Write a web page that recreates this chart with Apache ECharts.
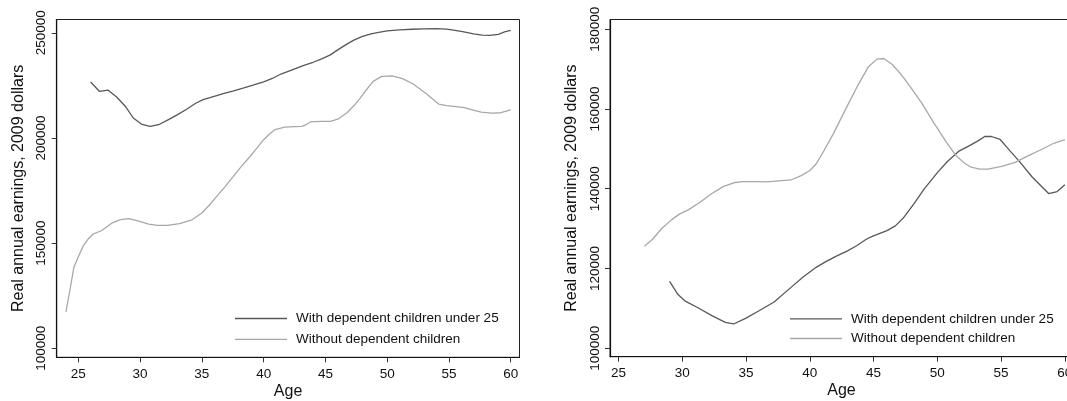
<!DOCTYPE html>
<html>
<head>
<meta charset="utf-8">
<script src="https://cdn.jsdelivr.net/npm/echarts@6/dist/echarts.min.js"></script>
<style>html,body{margin:0;padding:0;background:#fff}#c{width:1067px;height:401px}</style>
</head>
<body>
<div id="c"></div>
<script>
// ---- Data ----
const seriesNames = ['With dependent children under 25', 'Without dependent children'];
const xTicks = [25, 30, 35, 40, 45, 50, 55, 60];
const yTicksLeft = [100000, 150000, 200000, 250000];
const yTicksRight = [100000, 120000, 140000, 160000, 180000];

// Left panel, with dependent children
const ageLW = [26.0, 26.7, 27.4, 28.1, 28.8, 29.45, 30.1, 30.8, 31.5, 32.3, 33.0, 33.8, 34.5, 35.1, 36.0, 36.8, 37.5, 38.4, 39.2, 40.0, 40.7, 41.4, 42.2, 43.2, 44.0, 44.7, 45.4, 46.0, 46.7, 47.3, 48.0, 48.7, 49.3, 50.0, 51.0, 52.0, 53.0, 54.0, 54.8, 55.5, 56.2, 57.0, 57.7, 58.3, 59.0, 59.5, 60.0];
const earnLW = [226600, 222200, 222800, 219500, 215100, 209500, 206600, 205500, 206300, 208700, 211000, 213800, 216500, 218200, 219800, 221200, 222300, 223800, 225200, 226700, 228300, 230400, 232100, 234400, 236000, 237600, 239500, 241900, 244500, 246500, 248300, 249500, 250200, 250900, 251400, 251700, 251900, 252000, 251800, 251200, 250400, 249500, 248900, 248800, 249300, 250400, 251200];

// Left panel, without dependent children
const ageLN = [24.0, 24.3, 24.64, 25.0, 25.4, 25.8, 26.2, 26.9, 27.7, 28.4, 29.1, 29.9, 30.7, 31.4, 32.2, 33.2, 34.2, 35.0, 35.6, 36.2, 36.9, 37.55, 38.2, 38.9, 39.5, 40.0, 40.5, 40.93, 41.7, 42.5, 43.1, 43.4, 43.8, 44.6, 45.4, 46.06, 46.77, 47.3, 47.75, 48.3, 48.86, 49.56, 50.4, 51.24, 52.07, 52.6, 53.2, 53.7, 54.17, 54.8, 55.4, 56.24, 56.9, 57.6, 58.5, 59.2, 60.0];
const earnLN = [117300, 127000, 138500, 143500, 148700, 152000, 154300, 156000, 159500, 161200, 161700, 160500, 159000, 158400, 158400, 159300, 161100, 164300, 168000, 172200, 177000, 181700, 186500, 191200, 195500, 199200, 202000, 204000, 205200, 205400, 205500, 206200, 207700, 207900, 207900, 209100, 212100, 215300, 218500, 222800, 226900, 229300, 229500, 228200, 225800, 223500, 220900, 218400, 216100, 215400, 215000, 214400, 213400, 212300, 211800, 212000, 213400];

// Right panel, with dependent children
const ageRW = [29.0, 29.68, 30.2, 31.26, 32.32, 33.37, 34.03, 34.96, 36.02, 37.2, 38.39, 39.45, 40.5, 41.29, 42.08, 42.88, 43.67, 44.46, 44.99, 46.05, 46.71, 47.37, 48.16, 48.96, 50.02, 50.81, 51.73, 52.53, 53.19, 53.72, 54.25, 54.91, 55.7, 56.5, 57.42, 58.2, 58.73, 59.4, 60.0];
const earnRW = [116800, 113400, 111900, 110100, 108200, 106500, 106100, 107500, 109400, 111600, 114900, 117800, 120300, 121800, 123100, 124300, 125700, 127400, 128200, 129500, 130700, 132800, 136200, 139900, 144100, 146900, 149500, 150800, 152000, 153100, 153100, 152400, 149500, 146600, 143000, 140500, 138800, 139300, 141000];

// Right panel, without dependent children
const ageRN = [27.03, 27.69, 28.35, 29.15, 29.8, 30.47, 31.39, 32.32, 33.24, 34.03, 34.7, 35.75, 36.54, 37.33, 38.52, 39.32, 39.98, 40.5, 41.03, 41.83, 42.88, 43.68, 44.6, 45.26, 45.79, 46.45, 47.1, 47.9, 48.83, 49.75, 50.68, 51.47, 52.13, 52.66, 53.32, 53.98, 55.04, 56.1, 57.15, 58.2, 59.13, 60.0];
const earnRN = [125600, 127400, 129900, 132200, 133700, 134700, 136600, 138800, 140600, 141500, 141800, 141800, 141700, 141900, 142200, 143300, 144500, 146200, 149100, 153700, 160400, 165400, 170600, 172500, 172650, 171200, 168900, 165500, 161200, 156400, 151800, 148300, 146400, 145400, 144900, 144900, 145600, 146600, 148300, 149900, 151400, 152300];

// ---- Chart ----
const zip = (a, b) => a.map((x, i) => [x, b[i]]);
const FONT = '"Liberation Sans", Arial, Helvetica, sans-serif';
const darkCol = '#585858';
const lightCol = '#a8a8a8';

function xAxisCfg(gi, min, max) {
  return {
    type: 'value', gridIndex: gi, min: min, max: max,
    name: 'Age', nameLocation: 'middle', nameGap: 26, nameMoveOverlap: false,
    nameTextStyle: { fontFamily: FONT, fontSize: 16, color: '#111' },
    axisLine: { show: true, onZero: false, lineStyle: { color: '#111', width: 1.2 } },
    axisTick: { show: true, length: 5, customValues: xTicks, lineStyle: { color: '#333', width: 1 } },
    axisLabel: { customValues: xTicks, margin: 10, fontFamily: FONT, fontSize: 13.5, color: '#111',
      formatter: v => String(v) },
    splitLine: { show: false }
  };
}
function yAxisCfg(gi, min, max, ticks) {
  return {
    type: 'value', gridIndex: gi, min: min, max: max,
    name: 'Real annual earnings, 2009 dollars', nameLocation: 'middle', nameGap: 30, nameMoveOverlap: false,
    nameRotate: 90,
    nameTextStyle: { fontFamily: FONT, fontSize: 16, color: '#111' },
    axisLine: { show: true, onZero: false, lineStyle: { color: '#111', width: 1.2 } },
    axisTick: { show: true, length: 5, customValues: ticks, lineStyle: { color: '#333', width: 1 } },
    axisLabel: { customValues: ticks, rotate: 90, margin: 8, fontFamily: FONT, fontSize: 13.5, color: '#111',
      formatter: v => String(Math.round(v)) },
    splitLine: { show: false }
  };
}
function legendCfg(name, left, cy) {
  return {
    data: [name], left: left, top: cy - 8, orient: 'vertical',
    icon: 'rect', itemWidth: 52, itemHeight: 1.3, padding: 0,
    selectedMode: false,
    textStyle: { fontFamily: FONT, fontSize: 13.5, color: '#111', lineHeight: 16, padding: [0, 0, 0, 4] }
  };
}
function lineSeries(name, xi, data, col) {
  return {
    name: name, type: 'line', xAxisIndex: xi, yAxisIndex: xi, data: data,
    showSymbol: false, symbol: 'none', smooth: false, silent: true,
    lineStyle: { color: col, width: 1.3 }, itemStyle: { color: col },
    emphasis: { disabled: true }
  };
}

const chart = echarts.init(document.getElementById('c'), null, { renderer: 'canvas' });
chart.setOption({
  animation: false,
  backgroundColor: '#ffffff',
  grid: [
    { left: 56.7, top: 19.5, width: 462.8, height: 337.8, show: true, borderColor: '#222', borderWidth: 1,
      backgroundColor: 'transparent', containLabel: false, outerBoundsMode: 'none' },
    { left: 610, top: 19.5, width: 463, height: 337.2, show: true, borderColor: '#222', borderWidth: 1,
      backgroundColor: 'transparent', containLabel: false, outerBoundsMode: 'none' }
  ],
  xAxis: [xAxisCfg(0, 23.25, 60.71), xAxisCfg(1, 24.33, 60.64)],
  yAxis: [yAxisCfg(0, 95714, 256333, yTicksLeft), yAxisCfg(1, 97895, 182430, yTicksRight)],
  legend: [
    legendCfg(seriesNames[0], 235, 318.5),
    legendCfg(seriesNames[1], 235, 339.3),
    legendCfg(seriesNames[0], 790, 318.8),
    legendCfg(seriesNames[1], 790, 338.5)
  ],
  series: [
    lineSeries(seriesNames[0], 0, zip(ageLW, earnLW), darkCol),
    lineSeries(seriesNames[1], 0, zip(ageLN, earnLN), lightCol),
    lineSeries(seriesNames[0], 1, zip(ageRW, earnRW), darkCol),
    lineSeries(seriesNames[1], 1, zip(ageRN, earnRN), lightCol)
  ]
});
</script>
</body>
</html>
